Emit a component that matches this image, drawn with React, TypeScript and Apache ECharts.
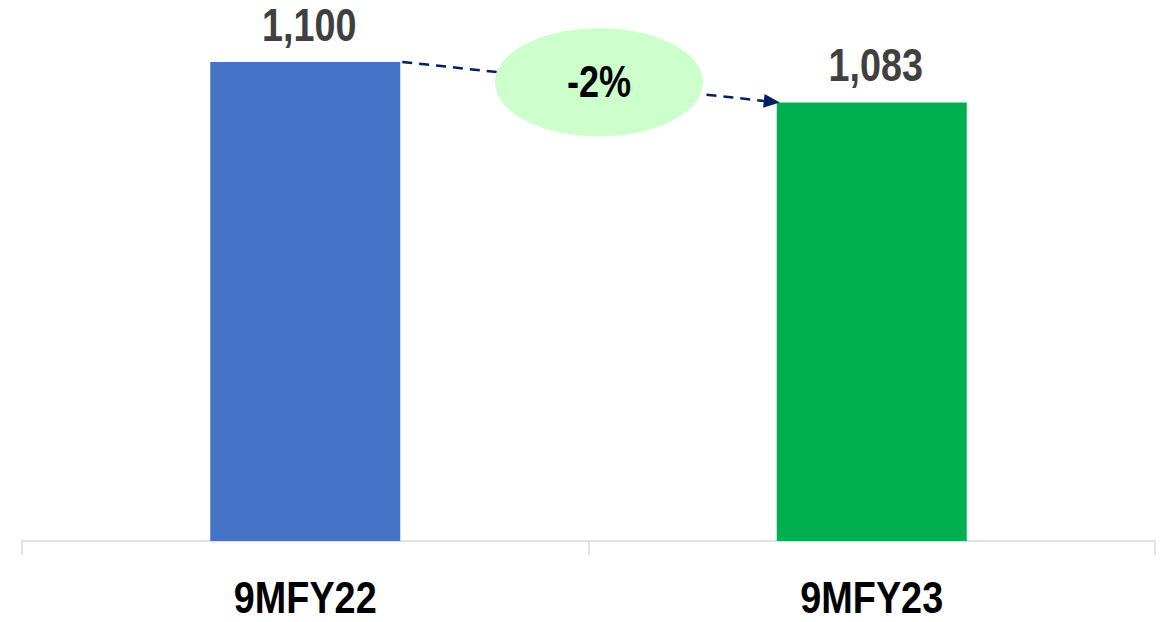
import React, { useEffect, useRef } from "react";
import * as echarts from "echarts";

const categories = ["9MFY22", "9MFY23"];
const values = [1100, 1083];
const barColors = ["#4472C4", "#00B050"];
const changeLabel = "-2%";
const yMin = 900;
const yMax = 1125;

const FONT = "'Liberation Sans', Arial, sans-serif";
const BAR_W = 190;
const NARROW = 0.82;

export default function App() {
  const ref = useRef<HTMLDivElement>(null);
  useEffect(() => {
    if (!ref.current) return;
    const chart = echarts.init(ref.current, null, { renderer: "svg" });
    chart.setOption({
      animation: false,
      grid: { left: 22, right: 11, top: 2, bottom: 81 },
      xAxis: {
        type: "category",
        data: categories,
        axisLine: { lineStyle: { color: "#d9d9d9", width: 1.5 } },
        axisTick: { show: true, length: 14, lineStyle: { color: "#d9d9d9", width: 1.5 } },
        axisLabel: { show: false },
      },
      yAxis: {
        type: "value",
        min: yMin,
        max: yMax,
        show: false,
        splitLine: { show: false },
      },
      series: [
        {
          type: "bar",
          barWidth: BAR_W,
          data: values.map((v, i) => ({ value: v, itemStyle: { color: barColors[i] } })),
          label: { show: false },
        },
      ],
    });

    const pts = values.map((v, i) => chart.convertToPixel({ gridIndex: 0 }, [i, v]) as number[]);
    const base = chart.convertToPixel({ gridIndex: 0 }, [0, yMin]) as number[];

    const valueTexts = values.map((v, i) => ({
      type: "text",
      x: pts[i][0] + 4,
      y: pts[i][1] - 37,
      scaleX: NARROW,
      style: {
        text: v.toLocaleString("en-US"),
        fill: "#404040",
        font: `bold 46px ${FONT}`,
        lineHeight: 40,
        align: "center",
        verticalAlign: "middle",
      },
      z: 12,
    }));
    const catTexts = categories.map((c, i) => ({
      type: "text",
      x: pts[i][0],
      y: base[1] + 56,
      scaleX: 0.84,
      style: {
        text: c,
        fill: "#000",
        font: `bold 45px ${FONT}`,
        lineHeight: 36,
        align: "center",
        verticalAlign: "middle",
      },
      z: 12,
    }));

    const x1 = pts[0][0] + BAR_W / 2 + 2;
    const y1 = pts[0][1];
    const x2 = pts[1][0] - BAR_W / 2 + 3;
    const y2 = pts[1][1];
    const ang = Math.atan2(y2 - y1, x2 - x1);
    const ah = 16;
    const aw = 7;
    const bx = x2 - ah * Math.cos(ang);
    const by = y2 - ah * Math.sin(ang);
    const nx = -Math.sin(ang);
    const ny = Math.cos(ang);
    const mx = (x1 + x2) / 2 + 8;
    const my = (y1 + y2) / 2;
    chart.setOption({
      graphic: [
        {
          type: "line",
          shape: { x1, y1, x2: bx, y2: by },
          style: { stroke: "#002060", lineWidth: 2.5, lineDash: [10, 7] },
          z: 10,
        },
        {
          type: "polygon",
          shape: {
            points: [
              [x2, y2],
              [bx + nx * aw, by + ny * aw],
              [bx - nx * aw, by - ny * aw],
            ],
          },
          style: { fill: "#002060" },
          z: 10,
        },
        {
          type: "ellipse",
          shape: { cx: mx, cy: my, rx: 104, ry: 54 },
          style: { fill: "#CCFFCC" },
          z: 11,
        },
        {
          type: "text",
          x: mx,
          y: my,
          scaleX: NARROW,
          style: {
            text: changeLabel,
            fill: "#000",
            font: `bold 44px ${FONT}`,
            align: "center",
            verticalAlign: "middle",
          },
          z: 12,
        },
        ...valueTexts,
        ...catTexts,
      ],
    });
    return () => chart.dispose();
  }, []);
  return (
    <div
      ref={ref}
      style={{ position: "absolute", left: 0, top: 0, width: 1166, height: 622 }}
    />
  );
}
